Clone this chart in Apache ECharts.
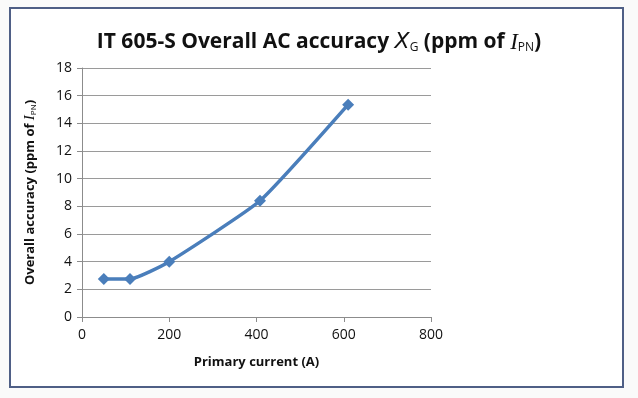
<!DOCTYPE html>
<html>
<head>
<meta charset="utf-8">
<script src="https://cdn.jsdelivr.net/npm/echarts@6/dist/echarts.min.js"></script>
<style>
  html, body { margin: 0; padding: 0; background: #fafafa; }
  #frame { position: absolute; left: 9px; top: 7px; width: 611px; height: 377px;
           border: 2px solid #4f5f86; background: #ffffff; }
  #main { position: absolute; left: 0; top: 0; width: 638px; height: 398px; }
</style>
</head>
<body>
<div id="frame"></div>
<div id="main"></div>
<script>
// 数据
var currentA = [50, 110, 200, 408, 610];
var accuracyPpm = [2.75, 2.75, 4.0, 8.4, 15.35];
var yTicks = [0, 2, 4, 6, 8, 10, 12, 14, 16, 18];
var xTicks = [0, 200, 400, 600, 800];

var points = [];
for (var i = 0; i < currentA.length; i++) {
    points.push([currentA[i], accuracyPpm[i]]);
}

var chart = echarts.init(document.getElementById('main'), null, {renderer: 'canvas'});
var font = '"Open Sans", "Liberation Sans", sans-serif';

var option = {
    animation: false,
    backgroundColor: 'transparent',
    title: {
        left: 'center',
        top: 26,
        text: '{b|IT 605-S Overall AC accuracy }{x|X}{s|G}{b| (ppm of }{i|I}{s|PN}{b|)}',
        textStyle: {
            rich: {
                b: {fontFamily: font, fontWeight: 'bold', fontSize: 21, color: '#111'},
                x: {fontFamily: '"DejaVu Sans", sans-serif', fontStyle: 'italic', fontWeight: 'normal', fontSize: 22, color: '#111'},
                i: {fontFamily: '"Liberation Serif", serif', fontStyle: 'italic', fontWeight: 'normal', fontSize: 23, color: '#111'},
                s: {fontFamily: font, fontWeight: 'normal', fontSize: 12, color: '#111', verticalAlign: 'bottom', padding: [10, 0, 0, 0]}
            }
        }
    },
    grid: {
        left: 82,
        right: 207,
        top: 68,
        bottom: 81
    },
    xAxis: {
        type: 'value',
        min: 0,
        max: 800,
        interval: 200,
        name: 'Primary current (A)',
        nameLocation: 'middle',
        nameGap: 39,
        nameTextStyle: {fontFamily: font, fontWeight: 'bold', fontSize: 13, color: '#111'},
        axisLine: {show: true, lineStyle: {color: '#8c8c8c', width: 1}},
        axisTick: {show: true, inside: false, length: 5, lineStyle: {color: '#8c8c8c'}},
        axisLabel: {fontFamily: font, fontSize: 14, color: '#111', margin: 11},
        splitLine: {show: false}
    },
    yAxis: {
        type: 'value',
        min: 0,
        max: 18,
        interval: 2,
        name: '{b|Overall accuracy (ppm of }{i|I}{s|PN}{b|)}',
        nameLocation: 'middle',
        nameGap: 44,
        nameRotate: 90,
        nameTextStyle: {
            rich: {
                b: {fontFamily: font, fontWeight: 'bold', fontSize: 13, color: '#111'},
                i: {fontFamily: '"Liberation Serif", serif', fontStyle: 'italic', fontSize: 15, color: '#111'},
                s: {fontFamily: font, fontSize: 8, color: '#111', verticalAlign: 'bottom', padding: [6, 0, 0, 0]}
            }
        },
        axisLine: {show: true, lineStyle: {color: '#8c8c8c', width: 1}},
        axisTick: {show: true, inside: false, length: 5, lineStyle: {color: '#8c8c8c'}},
        axisLabel: {fontFamily: font, fontSize: 14, color: '#111', margin: 10},
        splitLine: {show: true, lineStyle: {color: '#9a9a9a', width: 1}}
    },
    series: [
        {
            type: 'line',
            data: points,
            smooth: 0.15,
            symbol: 'diamond',
            symbolSize: 12,
            itemStyle: {color: '#4a7ebb'},
            lineStyle: {color: '#4a7ebb', width: 3.5}
        }
    ]
};
chart.setOption(option);
</script>
</body>
</html>
